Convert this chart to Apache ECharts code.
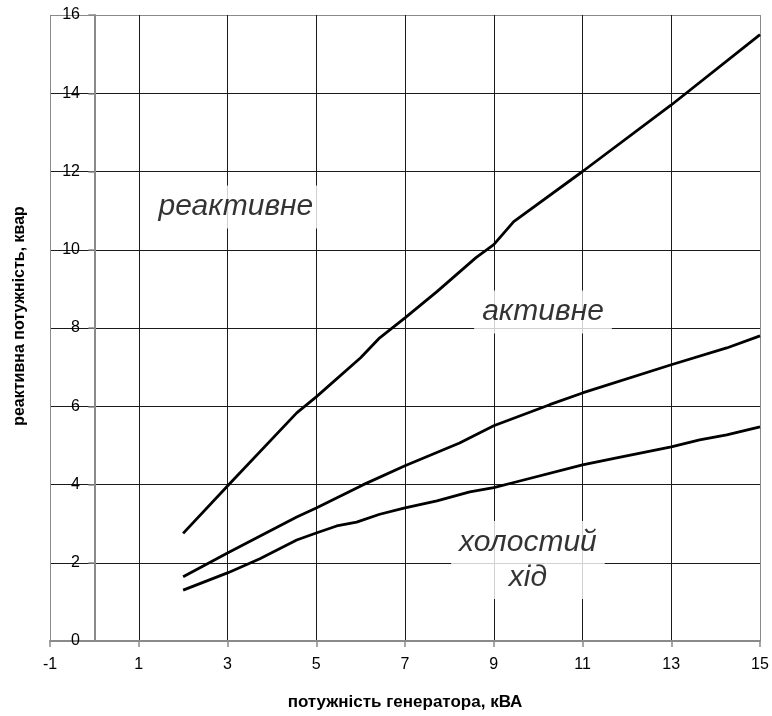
<!DOCTYPE html>
<html>
<head>
<meta charset="utf-8">
<script src="https://cdn.jsdelivr.net/npm/echarts@6/dist/echarts.min.js"></script>
<style>
html,body{margin:0;padding:0;background:#fff;}
#c{width:772px;height:716px;}
</style>
</head>
<body>
<div id="c"></div>
<script>
// Data
const xTitle = 'потужність генератора, кВА';
const yTitle = 'реактивна потужність, квар';

const reactiveX = [2, 3, 4.56, 5, 6, 6.43, 7, 7.72, 8.6, 9, 9.45, 11, 13, 15];
const reactiveY = [2.75, 3.96, 5.83, 6.24, 7.24, 7.75, 8.26, 8.93, 9.8, 10.13, 10.72, 12.0, 13.7, 15.5];

const activeX = [2, 3, 4.56, 5, 6.05, 7, 8.23, 9, 10.26, 11, 13, 14.25, 15];
const activeY = [1.64, 2.25, 3.17, 3.4, 3.99, 4.48, 5.06, 5.5, 6.04, 6.34, 7.06, 7.49, 7.8];

const idleX = [2, 3, 3.73, 4.56, 5, 5.46, 5.91, 6.43, 7, 7.72, 8.46, 9, 9.52, 11, 11.77, 13, 13.64, 14.25, 15];
const idleY = [1.3, 1.74, 2.1, 2.58, 2.76, 2.94, 3.04, 3.24, 3.4, 3.58, 3.81, 3.92, 4.07, 4.5, 4.68, 4.96, 5.14, 5.27, 5.47];

const annotationTexts = ['реактивне', 'активне', 'холостий\nхід'];
const annotationX = [3.19, 10.11, 9.77];
const annotationY = [11.09, 8.41, 2.07];

const font = 'Liberation Sans, Arial, sans-serif';
const pairs = (xs, ys) => xs.map((x, i) => [x, ys[i]]);

const lineSeries = (name, xs, ys) => ({
  name: name,
  type: 'line',
  data: pairs(xs, ys),
  symbol: 'none',
  smooth: false,
  lineStyle: { color: '#000', width: 2.8 },
  z: 5
});

const edge = '#8a8a8a', inner = '#1a1a1a';

const chart = echarts.init(document.getElementById('c'), null, { renderer: 'canvas' });
chart.setOption({
  animation: false,
  backgroundColor: '#fff',
  grid: { left: 50, right: 12, top: 15, bottom: 75, containLabel: false },
  xAxis: {
    type: 'value',
    min: -1, max: 15, interval: 2,
    name: xTitle,
    nameLocation: 'middle',
    nameGap: 53,
    nameTextStyle: { fontFamily: font, fontSize: 17, fontWeight: 'bold', color: '#000' },
    axisLine: { show: true, lineStyle: { color: edge, width: 2 } },
    axisTick: { show: true, length: 6, lineStyle: { color: edge, width: 1.5 } },
    axisLabel: { fontFamily: font, fontSize: 16, color: '#000', margin: 16 },
    splitLine: { show: true, lineStyle: { color: [edge, inner, inner, inner, inner, inner, inner, inner, edge], width: 1 } }
  },
  yAxis: {
    type: 'value',
    min: 0, max: 16, interval: 2,
    axisLine: { show: true, onZero: true, lineStyle: { color: edge, width: 2 } },
    axisTick: { show: true, length: 6, lineStyle: { color: edge, width: 1.5 } },
    axisLabel: { fontFamily: font, fontSize: 16, color: '#000', margin: -30 },
    splitLine: { show: true, lineStyle: { color: [edge, inner, inner, inner, inner, inner, inner, inner, edge], width: 1 } }
  },
  graphic: [{
    type: 'text',
    x: 20, y: 316,
    rotation: Math.PI / 2,
    style: {
      text: yTitle,
      fontFamily: font, fontSize: 16, fontWeight: 'bold', fill: '#000',
      align: 'center', verticalAlign: 'middle'
    }
  }],
  series: [
    lineSeries('реактивне', reactiveX, reactiveY),
    lineSeries('активне', activeX, activeY),
    lineSeries('холостий хід', idleX, idleY),
    {
      type: 'scatter',
      symbolSize: 1,
      itemStyle: { color: 'transparent' },
      z: 4,
      data: annotationTexts.map((t, i) => ({ name: t, value: [annotationX[i], annotationY[i]] })),
      label: {
        show: true,
        position: 'inside',
        formatter: p => p.name,
        fontFamily: font,
        fontStyle: 'italic',
        fontSize: 30,
        lineHeight: 35,
        color: '#000',
        backgroundColor: '#fff',
        padding: [4, 8],
        align: 'center',
        verticalAlign: 'middle'
      }
    }
  ]
});
</script>
</body>
</html>
